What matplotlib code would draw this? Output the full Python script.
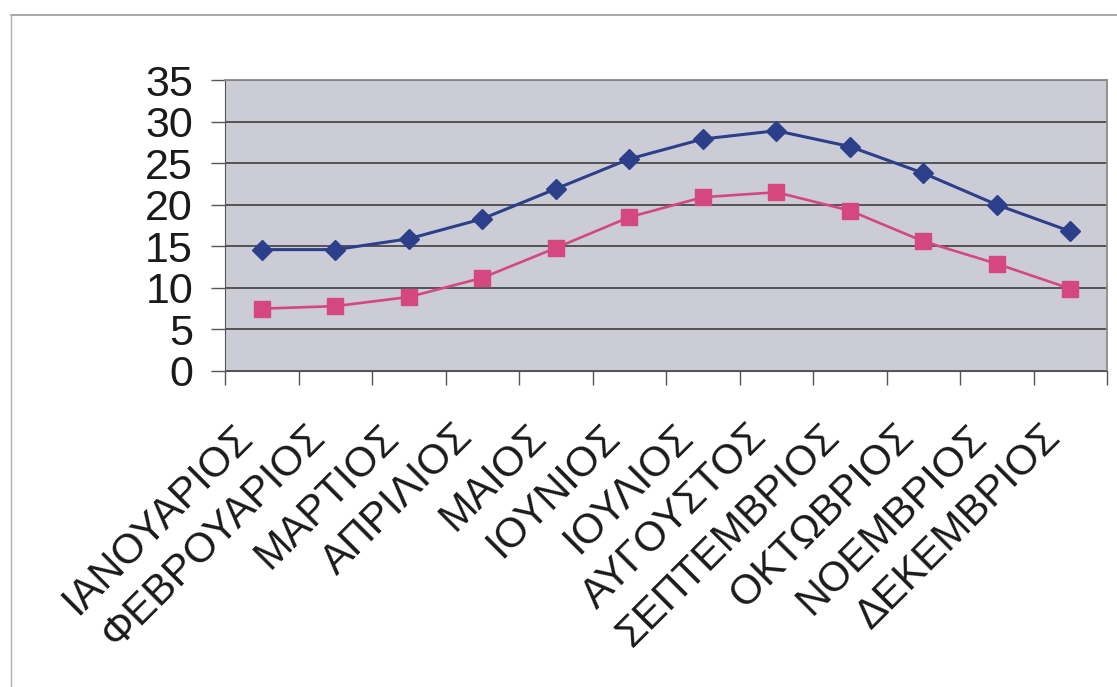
import matplotlib
matplotlib.use("Agg")
import matplotlib.pyplot as plt
import matplotlib.transforms as mtransforms
from matplotlib.lines import Line2D
import numpy as np

months = ["ΙΑΝΟΥΑΡΙΟΣ", "ΦΕΒΡΟΥΑΡΙΟΣ", "ΜΑΡΤΙΟΣ", "ΑΠΡΙΛΙΟΣ", "ΜΑΙΟΣ", "ΙΟΥΝΙΟΣ",
          "ΙΟΥΛΙΟΣ", "ΑΥΓΟΥΣΤΟΣ", "ΣΕΠΤΕΜΒΡΙΟΣ", "ΟΚΤΩΒΡΙΟΣ", "ΝΟΕΜΒΡΙΟΣ", "ΔΕΚΕΜΒΡΙΟΣ"]
temp_max = [14.6, 14.6, 15.9, 18.3, 21.9, 25.5, 27.9, 28.9, 27.0, 23.8, 20.0, 16.8]
temp_min = [7.5, 7.8, 8.9, 11.2, 14.8, 18.5, 20.9, 21.5, 19.3, 15.6, 12.9, 9.9]
y_ticks = [0, 5, 10, 15, 20, 25, 30, 35]

plt.rcParams["font.family"] = ["Liberation Sans", "DejaVu Sans"]

W, H, DPI = 1117, 687, 100
fig = plt.figure(figsize=(W / DPI, H / DPI), dpi=DPI, facecolor="white")

# chart frame edges
fig.add_artist(Line2D([11 / W, 1.0], [1 - 15 / H, 1 - 15 / H], transform=fig.transFigure,
                      color="#9a9a9a", lw=1.2))
fig.add_artist(Line2D([11 / W, 11 / W], [0, 1 - 15 / H], transform=fig.transFigure,
                      color="#b0b0b0", lw=1.0))

ax = fig.add_axes([225 / W, 1 - 371 / H, (1107 - 225) / W, (371 - 80) / H])
ax.set_facecolor("#cbccd6")

x = np.arange(len(months))
ax.plot(x, temp_max, color="#2c3f8a", lw=2.2, marker="D", ms=10.5,
        markerfacecolor="#2c3f8a", markeredgecolor="#2c3f8a", zorder=4)
ax.plot(x, temp_min, color="#d4487f", lw=1.9, marker="s", ms=11.5,
        markerfacecolor="#d4487f", markeredgecolor="#d4487f", zorder=3)

ax.set_xlim(-0.5, len(months) - 0.5)
ax.set_ylim(0, 35)
ax.set_yticks(y_ticks)
ax.set_yticklabels([str(v) for v in y_ticks], fontsize=31, color="#1a1a1a")
ax.yaxis.grid(True, color="#333333", lw=1.1)
ax.set_axisbelow(True)
ax.tick_params(axis="y", length=10, width=1.0, color="#555555", pad=13)

# category boundary ticks on x, labels at category centres
ax.set_xticks(np.arange(len(months) + 1) - 0.5, minor=True)
ax.set_xticks(x)
ax.tick_params(axis="x", which="minor", length=10, width=1.0, color="#555555")
ax.tick_params(axis="x", which="major", length=0, pad=0)
labels = ax.set_xticklabels(months, fontsize=30, color="#1a1a1a", rotation=45,
                            ha="right", va="top", rotation_mode="anchor")
offset = mtransforms.ScaledTranslation(-30 / DPI, -46 / DPI, fig.dpi_scale_trans)
for lab in labels:
    lab.set_transform(lab.get_transform() + offset)

for side in ["top", "right"]:
    ax.spines[side].set_color("#8a8a8a")
    ax.spines[side].set_linewidth(1.3)
ax.spines["left"].set_color("#555555")
ax.spines["bottom"].set_color("#555555")

fig.savefig("out.png", dpi=DPI, facecolor="white")
